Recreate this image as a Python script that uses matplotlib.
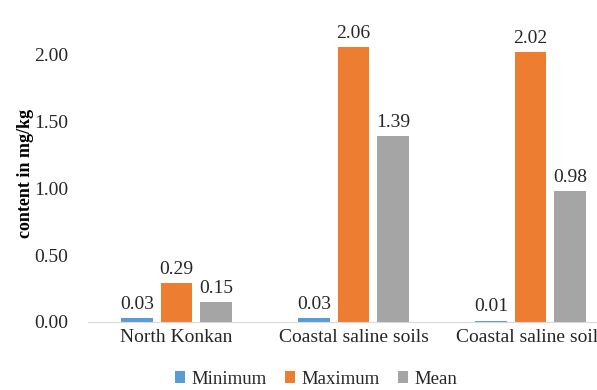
import matplotlib.pyplot as plt
import numpy as np

plt.rcParams['font.family'] = ['Liberation Serif', 'DejaVu Serif']

categories = ["North Konkan", "Coastal saline soils", "Coastal saline soils"]
minimum = [0.03, 0.03, 0.01]
maximum = [0.29, 2.06, 2.02]
mean = [0.15, 1.39, 0.98]
yticks = [0.0, 0.5, 1.0, 1.5, 2.0]

series = [("Minimum", minimum, "#5B9BD5"),
          ("Maximum", maximum, "#ED7D31"),
          ("Mean", mean, "#A5A5A5")]

fig = plt.figure(figsize=(5.97, 3.90), dpi=100)
# plot area runs past the right edge, like the original cropped chart
ax = fig.add_axes([88 / 597, 1 - 322 / 390, 531 / 597, 300 / 390])

x = np.arange(len(categories))
width = 0.178
step = 0.222
for i, (name, vals, col) in enumerate(series):
    pos = x + (i - 1) * step
    ax.bar(pos, vals, width, color=col, label=name)
    for p, v in zip(pos, vals):
        ax.text(p, v + 0.04, f"{v:.2f}", ha="center", va="bottom",
                fontsize=14, color="#262626")

ax.set_xlim(-0.5, 2.5)
ax.set_ylim(0, 2.247)
ax.set_yticks(yticks)
ax.set_yticklabels([f"{t:.2f}" for t in yticks], fontsize=14, color="#262626")
ax.set_xticks(x)
ax.set_xticklabels(categories, fontsize=14, color="#262626")
ax.tick_params(length=0, pad=5)
ax.tick_params(axis="y", pad=14)

for s in ["top", "right", "left"]:
    ax.spines[s].set_visible(False)
ax.spines["bottom"].set_color("#D9D9D9")

fig.text(25 / 597, 1 - 174 / 390, "content in mg/kg", rotation=90,
         ha="center", va="center", fontsize=13, fontweight="bold")

fig.legend(loc="center", bbox_to_anchor=(316 / 597, 1 - 379 / 390), ncol=3,
           frameon=False, fontsize=13.5, handlelength=0.55, handleheight=0.55,
           handletextpad=0.3, columnspacing=1.0, labelcolor="#262626")

fig.savefig("out.png", dpi=100)
